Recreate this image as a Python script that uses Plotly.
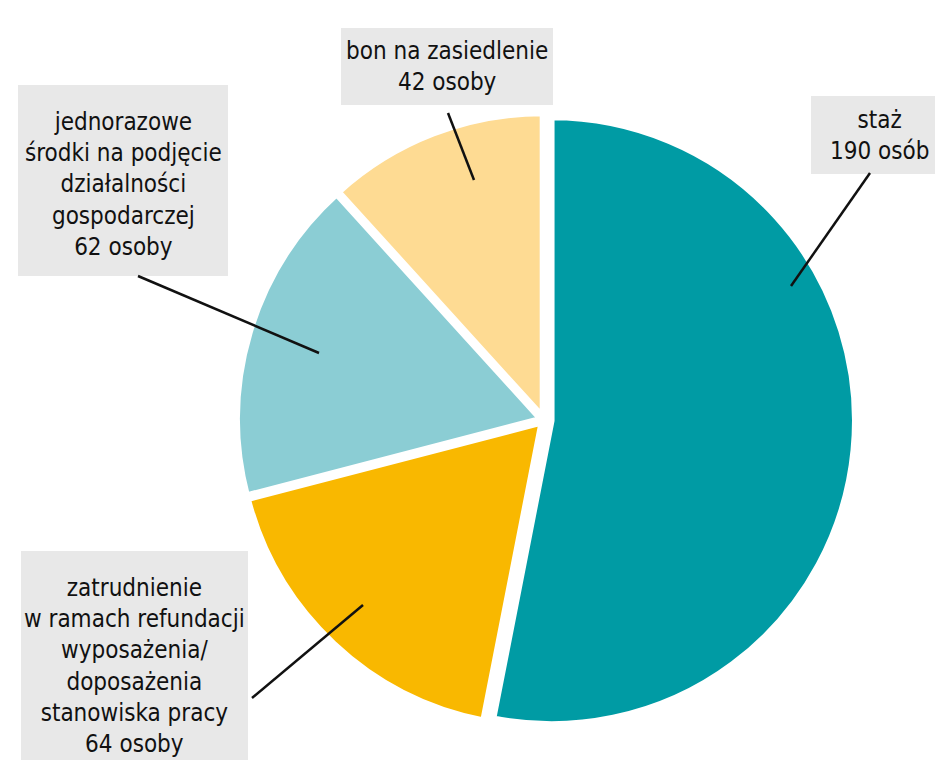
import plotly.graph_objects as go

W, H = 943, 760
categories = ["staż", "zatrudnienie w ramach refundacji wyposażenia/doposażenia stanowiska pracy",
              "jednorazowe środki na podjęcie działalności gospodarczej", "bon na zasiedlenie"]
values = [190, 64, 62, 42]
colors = ["#009BA4", "#F9B800", "#8BCDD4", "#FEDB93"]
label_texts = [
    "staż<br>190 osób",
    "zatrudnienie<br>w ramach refundacji<br>wyposażenia/<br>doposażenia<br>stanowiska pracy<br>64 osoby",
    "jednorazowe<br>środki na podjęcie<br>działalności<br>gospodarczej<br>62 osoby",
    "bon na zasiedlenie<br>42 osoby",
]

FONT = "DejaVu Sans Condensed, DejaVu Sans"

def px(x):
    return x / W

def py(y):
    return 1 - y / H

fig = go.Figure(go.Pie(
    labels=categories, values=values, sort=False, direction="clockwise", rotation=0,
    marker=dict(colors=colors, line=dict(color="white", width=6)),
    pull=[0.025, 0.012, 0.012, 0.012],
    textinfo="none", hoverinfo="label+value", showlegend=False,
    domain=dict(x=[px(225), px(847)], y=[py(723), py(101)]),
))

# label boxes: (left, top, width, height) in pixels, text centre y
boxes = [
    (803, 88, 137, 78, 127),
    (13, 543, 227, 230, 658),
    (10, 77, 210, 191, 176),
    (333, 20, 212, 77, 59),
]
for txt, (l, t, w, h, cy) in zip(label_texts, boxes):
    fig.add_shape(type="rect", xref="paper", yref="paper", x0=px(l), x1=px(l + w),
                  y0=py(t + h), y1=py(t), fillcolor="#E8E8E8", line=dict(width=0), layer="above")
    fig.add_annotation(text=txt, xref="paper", yref="paper", x=px(l + w / 2), y=py(cy),
                       xanchor="center", yanchor="middle", showarrow=False, align="center",
                       font=dict(family=FONT, size=24, color="#111111"))

# leader lines (pixel endpoints)
leaders = [
    ((862, 165), (783, 278)),
    ((244, 690), (355, 597)),
    ((130, 268), (311, 345)),
    ((440, 105), (466, 172)),
]
for (x0, y0), (x1, y1) in leaders:
    fig.add_shape(type="line", xref="paper", yref="paper", x0=px(x0), y0=py(y0),
                  x1=px(x1), y1=py(y1), line=dict(color="#111111", width=2.5), layer="above")

fig.update_layout(width=W, height=H, margin=dict(l=0, r=0, t=0, b=0),
                  paper_bgcolor="white", plot_bgcolor="white")
fig.write_html("out.html")
